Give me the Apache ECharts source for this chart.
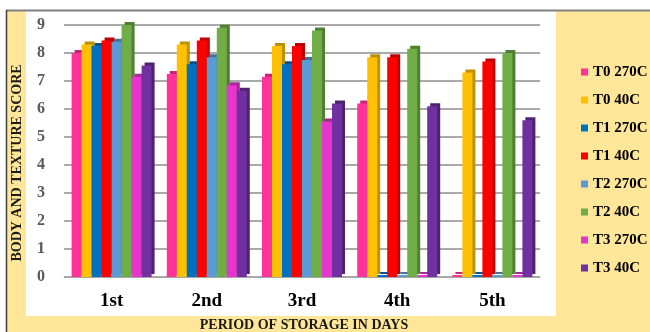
<!DOCTYPE html>
<html>
<head>
<meta charset="utf-8">
<script src="https://cdn.jsdelivr.net/npm/echarts@6/dist/echarts.min.js"></script>
<style>html,body{margin:0;padding:0;background:#fff}#c{width:650px;height:332px}</style>
</head>
<body>
<div id="c"></div>
<script>
const categories = ['1st', '2nd', '3rd', '4th', '5th'];
const seriesNames = ['T0 270C', 'T0 40C', 'T1 270C', 'T1 40C', 'T2 270C', 'T2 40C', 'T3 270C', 'T3 40C'];
const t0_270 = [8.0, 7.25, 7.15, 6.2, 0];
const t0_40 = [8.3, 8.3, 8.25, 7.85, 7.3];
const t1_270 = [8.25, 7.6, 7.6, 0, 0];
const t1_40 = [8.45, 8.45, 8.25, 7.85, 7.7];
const t2_270 = [8.4, 7.85, 7.75, 0, 0];
const t2_40 = [9.0, 8.9, 8.8, 8.15, 8.0];
const t3_270 = [7.15, 6.85, 5.55, 0, 0];
const t3_40 = [7.55, 6.65, 6.2, 6.1, 5.6];
const yTicks = [0, 1, 2, 3, 4, 5, 6, 7, 8, 9];

const values = [t0_270, t0_40, t1_270, t1_40, t2_270, t2_40, t3_270, t3_40];
const colors = ['#FF3399', '#FFC000', '#0070C0', '#FF0000', '#5B9BD5', '#70AD47', '#E535CD', '#7030A0'];
const darks = ['#C4257A', '#BF9000', '#005490', '#BF0000', '#41719C', '#507E32', '#A8259A', '#4F2270'];
const serif = '"Liberation Serif", "Times New Roman", serif';

const chart = echarts.init(document.getElementById('c'), null, {renderer: 'canvas'});
chart.setOption({
  backgroundColor: '#ffffff',
  animation: false,
  graphic: [
    {type: 'rect', z: -10, shape: {x: 7, y: 11, width: 643, height: 321}, style: {fill: '#FFE699'}},
    {type: 'rect', z: -9, shape: {x: 26, y: 11, width: 530, height: 305}, style: {fill: '#ffffff'}},
    {type: 'line', z: -8, shape: {x1: 6, y1: 10.5, x2: 650, y2: 10.5}, style: {stroke: '#7f7f7f', lineWidth: 2}},
    {type: 'line', z: -8, shape: {x1: 6.5, y1: 10, x2: 6.5, y2: 332}, style: {stroke: '#404040', lineWidth: 1.5}},
    {type: 'text', z: 10, x: 304, y: 325, style: {text: 'PERIOD OF STORAGE IN DAYS', font: 'bold 14px ' + serif, fill: '#1a1a1a', textAlign: 'center', textVerticalAlign: 'middle'}},
    {type: 'text', z: 10, x: 17, y: 163, rotation: Math.PI / 2, style: {text: 'BODY AND TEXTURE SCORE', font: 'bold 14px ' + serif, fill: '#1a1a1a', textAlign: 'center', textVerticalAlign: 'middle'}}
  ],
  legend: {
    orient: 'vertical',
    left: 576,
    top: 59,
    itemWidth: 7,
    itemHeight: 7,
    itemGap: 12,
    icon: 'rect',
    itemStyle: {shadowBlur: 0, shadowOffsetX: 0, shadowOffsetY: 0, shadowColor: 'rgba(0,0,0,0)'},
    textStyle: {fontFamily: serif, fontWeight: 'bold', fontSize: 15, color: '#000', lineHeight: 16},
    data: seriesNames
  },
  grid: {left: 64, right: 110, top: 25, bottom: 55},
  xAxis: {
    type: 'category',
    data: categories,
    axisLine: {show: true, lineStyle: {color: '#a6a6a6', width: 1}},
    axisTick: {show: false},
    axisLabel: {margin: 15, fontFamily: serif, fontWeight: 'bold', fontSize: 19, color: '#000'}
  },
  yAxis: {
    type: 'value',
    min: yTicks[0],
    max: yTicks[yTicks.length - 1],
    interval: 1,
    axisLine: {show: false},
    axisTick: {show: false},
    splitLine: {lineStyle: {color: '#8c8c8c', width: 1.5}},
    axisLabel: {margin: 19, fontFamily: serif, fontWeight: 'bold', fontSize: 16, color: '#595959'}
  },
  series: seriesNames.map((name, i) => ({
    name: name,
    type: 'bar',
    data: values[i],
    barWidth: 10,
    barGap: '0%',
    barMinHeight: 2,
    itemStyle: {color: colors[i], shadowBlur: 0, shadowOffsetX: 3, shadowOffsetY: -3, shadowColor: darks[i]}
  }))
});
</script>
</body>
</html>
